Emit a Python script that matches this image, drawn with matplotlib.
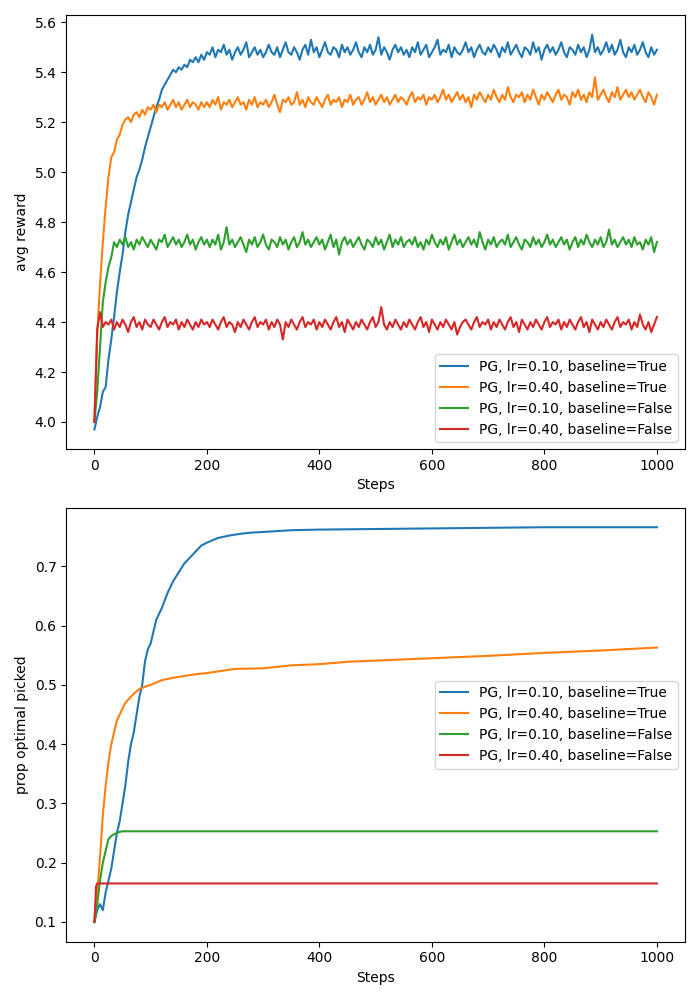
import matplotlib
matplotlib.use("Agg")
import matplotlib.pyplot as plt
import numpy as np

labels = ['PG, lr=0.10, baseline=True', 'PG, lr=0.40, baseline=True',
          'PG, lr=0.10, baseline=False', 'PG, lr=0.40, baseline=False']

# avg reward, sampled every 5 steps (0..1000)
reward_steps = np.arange(0, 1001, 5)

reward_blue = [
    3.97, 4.02, 4.06, 4.12, 4.14, 4.25, 4.33, 4.42, 4.52, 4.60,
    4.67, 4.76, 4.83, 4.88, 4.93, 4.98, 5.01, 5.05, 5.10, 5.14,
    5.18, 5.22, 5.26, 5.29, 5.33, 5.35, 5.37, 5.39, 5.41, 5.40,
    5.42, 5.41, 5.43, 5.42, 5.45, 5.44, 5.46, 5.44, 5.47, 5.45,
    5.48,
    5.47, 5.50, 5.46, 5.49, 5.48, 5.51, 5.47, 5.49, 5.45, 5.48,
    5.50, 5.47, 5.49, 5.52, 5.46, 5.48, 5.50, 5.47, 5.49, 5.46,
    5.48, 5.51, 5.48, 5.47, 5.50, 5.46, 5.49, 5.52, 5.48, 5.47,
    5.50, 5.48, 5.45, 5.49, 5.51, 5.47, 5.53, 5.48, 5.50, 5.46,
    5.49, 5.52, 5.48, 5.47, 5.50, 5.49, 5.46, 5.51, 5.48, 5.50,
    5.47, 5.49, 5.52, 5.48, 5.46, 5.50, 5.48, 5.51, 5.47, 5.49,
    5.54, 5.47, 5.50, 5.48, 5.45, 5.49, 5.51, 5.48, 5.50, 5.47,
    5.49, 5.46, 5.50, 5.48, 5.52, 5.47, 5.49, 5.51, 5.46, 5.48,
    5.50, 5.53, 5.47, 5.49, 5.48, 5.51, 5.46, 5.50, 5.48, 5.47,
    5.49, 5.52, 5.48, 5.50, 5.46, 5.49, 5.51, 5.48, 5.47, 5.50,
    5.48, 5.51, 5.49, 5.46, 5.50, 5.48, 5.52, 5.47, 5.49, 5.51,
    5.48, 5.46, 5.50, 5.49, 5.47, 5.52, 5.48, 5.50, 5.45, 5.49,
    5.51, 5.48, 5.50, 5.47, 5.49, 5.52, 5.48, 5.46, 5.50, 5.49,
    5.47, 5.51, 5.48, 5.50, 5.46, 5.49, 5.55, 5.48, 5.50, 5.47,
    5.49, 5.52, 5.48, 5.51, 5.47, 5.49, 5.53, 5.48, 5.46, 5.50,
    5.48, 5.51, 5.47, 5.49, 5.52, 5.48, 5.46, 5.50, 5.47, 5.49,
]

reward_orange = [
    4.00, 4.35, 4.55, 4.72, 4.86, 4.98, 5.06, 5.08, 5.13, 5.15,
    5.19, 5.21, 5.22, 5.20, 5.23, 5.24, 5.22, 5.25, 5.23, 5.26,
    5.25, 5.27, 5.24, 5.27, 5.26, 5.28, 5.25, 5.27, 5.29, 5.26,
    5.28, 5.25, 5.27, 5.29, 5.26, 5.28, 5.27, 5.25, 5.28, 5.26,
    5.28,
    5.26, 5.29, 5.27, 5.30, 5.25, 5.28, 5.27, 5.29, 5.26, 5.28,
    5.30, 5.27, 5.28, 5.25, 5.29, 5.27, 5.30, 5.26, 5.28, 5.27,
    5.29, 5.26, 5.28, 5.31, 5.27, 5.24, 5.29, 5.28, 5.30, 5.27,
    5.28, 5.32, 5.27, 5.29, 5.26, 5.30, 5.28, 5.27, 5.30, 5.28,
    5.26, 5.29, 5.31, 5.27, 5.29, 5.28, 5.30, 5.26, 5.29, 5.28,
    5.31, 5.27, 5.29, 5.30, 5.27, 5.29, 5.32, 5.28, 5.30, 5.27,
    5.29, 5.31, 5.28, 5.30, 5.27, 5.29, 5.31, 5.28, 5.30, 5.29,
    5.27, 5.30, 5.32, 5.28, 5.30, 5.29, 5.31, 5.27, 5.30, 5.29,
    5.31, 5.28, 5.30, 5.33, 5.29, 5.31, 5.28, 5.30, 5.32, 5.29,
    5.31, 5.28, 5.30, 5.26, 5.31, 5.29, 5.32, 5.30, 5.28, 5.31,
    5.29, 5.33, 5.30, 5.28, 5.31, 5.29, 5.34, 5.30, 5.28, 5.31,
    5.30, 5.32, 5.28, 5.31, 5.29, 5.33, 5.30, 5.27, 5.31, 5.29,
    5.32, 5.30, 5.28, 5.31, 5.33, 5.29, 5.31, 5.30, 5.27, 5.32,
    5.30, 5.33, 5.29, 5.31, 5.28, 5.32, 5.30, 5.38, 5.29, 5.31,
    5.33, 5.30, 5.28, 5.32, 5.30, 5.34, 5.29, 5.31, 5.33, 5.30,
    5.32, 5.29, 5.31, 5.33, 5.30, 5.28, 5.32, 5.30, 5.27, 5.31,
]

reward_green = [
    4.00, 4.12, 4.30, 4.48, 4.56, 4.62, 4.66, 4.72, 4.70, 4.73,
    4.71, 4.74, 4.70, 4.72, 4.69, 4.73, 4.71, 4.74, 4.72, 4.70,
    4.73, 4.71, 4.69, 4.73, 4.72, 4.75, 4.70, 4.72, 4.74, 4.71,
    4.73, 4.70, 4.72, 4.75, 4.71, 4.73, 4.69, 4.72, 4.74, 4.71,
    4.73,
    4.70, 4.73, 4.71, 4.75, 4.69, 4.72, 4.78, 4.71, 4.73, 4.70,
    4.72, 4.74, 4.71, 4.68, 4.73, 4.71, 4.74, 4.70, 4.72, 4.75,
    4.71, 4.69, 4.73, 4.72, 4.70, 4.74, 4.71, 4.73, 4.69, 4.72,
    4.74, 4.70, 4.72, 4.76, 4.71, 4.73, 4.70, 4.72, 4.74, 4.71,
    4.73, 4.69, 4.72, 4.75, 4.70, 4.73, 4.67, 4.72, 4.74, 4.71,
    4.73, 4.70, 4.72, 4.74, 4.71, 4.69, 4.73, 4.72, 4.70, 4.74,
    4.71, 4.73, 4.69, 4.72, 4.75, 4.70, 4.73, 4.71, 4.74, 4.70,
    4.72, 4.73, 4.71, 4.74, 4.70, 4.72, 4.69, 4.73, 4.71, 4.75,
    4.72, 4.70, 4.73, 4.71, 4.74, 4.69, 4.72, 4.75, 4.71, 4.73,
    4.70, 4.72, 4.74, 4.71, 4.73, 4.70, 4.76, 4.72, 4.69, 4.73,
    4.71, 4.74, 4.70, 4.72, 4.73, 4.71, 4.75, 4.70, 4.72, 4.74,
    4.71, 4.69, 4.73, 4.72, 4.70, 4.74, 4.71, 4.73, 4.70, 4.72,
    4.75, 4.71, 4.73, 4.70, 4.72, 4.74, 4.71, 4.73, 4.69, 4.72,
    4.74, 4.70, 4.73, 4.71, 4.75, 4.72, 4.70, 4.73, 4.71, 4.74,
    4.70, 4.72, 4.77, 4.71, 4.73, 4.70, 4.72, 4.74, 4.71, 4.73,
    4.70, 4.74, 4.71, 4.72, 4.69, 4.73, 4.71, 4.74, 4.68, 4.72,
]

reward_red = [
    4.00, 4.37, 4.44, 4.38, 4.40, 4.39, 4.41, 4.37, 4.40, 4.38,
    4.41, 4.39, 4.36, 4.40, 4.42, 4.38, 4.40, 4.37, 4.41, 4.39,
    4.38, 4.41, 4.39, 4.37, 4.40, 4.42, 4.38, 4.40, 4.39, 4.41,
    4.37, 4.40, 4.38, 4.41, 4.39, 4.37, 4.40, 4.38, 4.41, 4.39,
    4.40,
    4.38, 4.41, 4.39, 4.37, 4.40, 4.42, 4.38, 4.40, 4.39, 4.36,
    4.40, 4.38, 4.41, 4.39, 4.37, 4.40, 4.42, 4.38, 4.40, 4.39,
    4.41, 4.37, 4.40, 4.38, 4.41, 4.39, 4.33, 4.40, 4.38, 4.41,
    4.39, 4.37, 4.40, 4.42, 4.38, 4.40, 4.39, 4.41, 4.37, 4.40,
    4.38, 4.41, 4.39, 4.37, 4.40, 4.42, 4.38, 4.40, 4.36, 4.41,
    4.39, 4.37, 4.40, 4.38, 4.41, 4.39, 4.37, 4.40, 4.42, 4.38,
    4.40, 4.46, 4.39, 4.37, 4.40, 4.38, 4.41, 4.39, 4.37, 4.40,
    4.38, 4.41, 4.39, 4.37, 4.40, 4.42, 4.38, 4.40, 4.36, 4.41,
    4.39, 4.37, 4.40, 4.38, 4.41, 4.39, 4.37, 4.40, 4.35, 4.38,
    4.40, 4.41, 4.39, 4.37, 4.40, 4.42, 4.38, 4.40, 4.39, 4.41,
    4.37, 4.40, 4.38, 4.41, 4.39, 4.37, 4.40, 4.42, 4.38, 4.40,
    4.36, 4.41, 4.39, 4.37, 4.40, 4.38, 4.41, 4.39, 4.37, 4.40,
    4.42, 4.38, 4.40, 4.39, 4.41, 4.37, 4.40, 4.38, 4.41, 4.39,
    4.37, 4.40, 4.42, 4.38, 4.40, 4.36, 4.41, 4.39, 4.37, 4.40,
    4.38, 4.41, 4.39, 4.37, 4.40, 4.42, 4.38, 4.40, 4.39, 4.41,
    4.37, 4.40, 4.38, 4.43, 4.39, 4.37, 4.40, 4.36, 4.39, 4.42,
]

# prop optimal picked
opt_blue_steps = [0, 5, 10, 15, 20, 25, 30, 35, 40, 45, 50, 55, 60, 65, 70, 75,
                  80, 85, 90, 95, 100, 110, 120, 130, 140, 150, 160, 170, 180,
                  190, 200, 220, 240, 260, 280, 300, 350, 400, 500, 600, 700,
                  800, 900, 1000]
opt_blue = [0.10, 0.12, 0.13, 0.12, 0.15, 0.17, 0.19, 0.22, 0.25, 0.27,
            0.30, 0.33, 0.37, 0.40, 0.42, 0.45, 0.48, 0.50, 0.54, 0.56,
            0.57, 0.61, 0.63, 0.655, 0.675, 0.69, 0.705, 0.715, 0.725, 0.735,
            0.74, 0.748, 0.752, 0.755, 0.757, 0.758, 0.761, 0.762, 0.763,
            0.764, 0.765, 0.766, 0.766, 0.766]

opt_orange_steps = [0, 5, 10, 15, 20, 25, 30, 35, 40, 45, 50, 55, 60, 70, 80,
                    90, 100, 120, 140, 160, 180, 200, 250, 300, 350, 400, 450,
                    500, 600, 700, 800, 900, 1000]
opt_orange = [0.10, 0.15, 0.21, 0.28, 0.33, 0.37, 0.40, 0.42, 0.44, 0.45,
              0.46, 0.47, 0.475, 0.485, 0.493, 0.497, 0.50, 0.508, 0.512,
              0.515, 0.518, 0.52, 0.527, 0.528, 0.533, 0.535, 0.539, 0.541,
              0.545, 0.549, 0.554, 0.558, 0.563]

opt_green_steps = [0, 5, 10, 15, 20, 25, 30, 35, 40, 45, 50, 60, 1000]
opt_green = [0.10, 0.13, 0.17, 0.20, 0.22, 0.24, 0.245, 0.248, 0.25, 0.252,
             0.253, 0.253, 0.253]

opt_red_steps = [0, 3, 5, 1000]
opt_red = [0.10, 0.16, 0.165, 0.165]

fig, (ax1, ax2) = plt.subplots(2, 1, figsize=(7, 10))

for vals, lab in zip([reward_blue, reward_orange, reward_green, reward_red], labels):
    ax1.plot(reward_steps, vals, label=lab)
ax1.set_xlabel('Steps')
ax1.set_ylabel('avg reward')
ax1.legend(loc='lower right')

opt = [(opt_blue_steps, opt_blue), (opt_orange_steps, opt_orange),
       (opt_green_steps, opt_green), (opt_red_steps, opt_red)]
for (xs, ys), lab in zip(opt, labels):
    ax2.plot(xs, ys, label=lab)
ax2.set_xlabel('Steps')
ax2.set_ylabel('prop optimal picked')
ax2.legend(loc='center right')

plt.tight_layout()
plt.savefig('out.png', dpi=100)
